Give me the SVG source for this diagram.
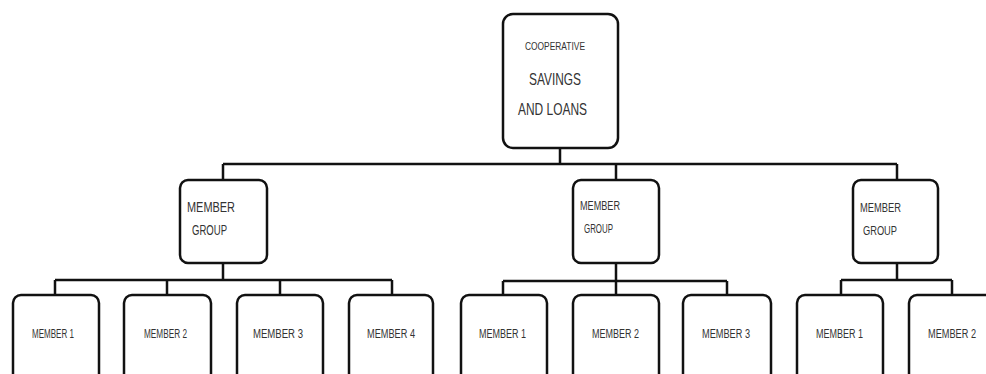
<svg xmlns="http://www.w3.org/2000/svg" width="986" height="374" viewBox="0 0 986 374">
<style>
.box{fill:#fff;stroke:#111;stroke-width:2.5}
.ln{fill:none;stroke:#111;stroke-width:2.5}
text{font-family:"Liberation Sans",Arial,sans-serif;fill:#333}
.m{font-size:12px}
</style>
<rect width="986" height="374" fill="#fff"/>
<g id="connectors">
<path class="ln" d="M560 148V164M223 164H897M223 164V180M616 164V180M897 164V180"/>
<path class="ln" d="M223 263V280M55 280H392M55 280V295M167 280V295M280 280V295M392 280V295"/>
<path class="ln" d="M616 263V281M503 281H727M503 281V295M616 281V295M727 281V295"/>
<path class="ln" d="M897 263V280M841 280H952M841 280V295M952 280V295"/>
</g>
<g id="root">
<rect class="box" x="503" y="14" width="115" height="134" rx="10"/>
<text x="525" y="50" font-size="11.5" textLength="60" lengthAdjust="spacingAndGlyphs">COOPERATIVE</text>
<text x="529" y="85" font-size="16.5" textLength="52" lengthAdjust="spacingAndGlyphs">SAVINGS</text>
<text x="518" y="115" font-size="16.5" textLength="69" lengthAdjust="spacingAndGlyphs">AND LOANS</text>
</g>
<g id="group1">
<rect class="box" x="180" y="180" width="87" height="83" rx="8"/>
<text x="187" y="212" font-size="15" textLength="48" lengthAdjust="spacingAndGlyphs">MEMBER</text>
<text x="192" y="235" font-size="15" textLength="35" lengthAdjust="spacingAndGlyphs">GROUP</text>
</g>
<g id="group2">
<rect class="box" x="573" y="180" width="86" height="83" rx="8"/>
<text x="580" y="210" font-size="12" textLength="40" lengthAdjust="spacingAndGlyphs">MEMBER</text>
<text x="584" y="233" font-size="12" textLength="29" lengthAdjust="spacingAndGlyphs">GROUP</text>
</g>
<g id="group3">
<rect class="box" x="853" y="180" width="85" height="83" rx="8"/>
<text x="860" y="212" font-size="12.5" textLength="41" lengthAdjust="spacingAndGlyphs">MEMBER</text>
<text x="863" y="235" font-size="13.5" textLength="34" lengthAdjust="spacingAndGlyphs">GROUP</text>
</g>
<g id="g1-member1"><rect class="box" x="13" y="295" width="86" height="100" rx="8"/><text class="m" x="32" y="338" font-size="11" textLength="42" lengthAdjust="spacingAndGlyphs">MEMBER 1</text></g>
<g id="g1-member2"><rect class="box" x="124" y="295" width="87" height="100" rx="8"/><text class="m" x="144" y="338" font-size="11" textLength="43" lengthAdjust="spacingAndGlyphs">MEMBER 2</text></g>
<g id="g1-member3"><rect class="box" x="237" y="295" width="86" height="100" rx="8"/><text class="m" x="253" y="338" textLength="50" lengthAdjust="spacingAndGlyphs">MEMBER 3</text></g>
<g id="g1-member4"><rect class="box" x="349" y="295" width="84" height="100" rx="8"/><text class="m" x="367" y="338" textLength="48" lengthAdjust="spacingAndGlyphs">MEMBER 4</text></g>
<g id="g2-member1"><rect class="box" x="461" y="295" width="86" height="100" rx="8"/><text class="m" x="479" y="338" textLength="47" lengthAdjust="spacingAndGlyphs">MEMBER 1</text></g>
<g id="g2-member2"><rect class="box" x="573" y="295" width="86" height="100" rx="8"/><text class="m" x="592" y="338" textLength="47" lengthAdjust="spacingAndGlyphs">MEMBER 2</text></g>
<g id="g2-member3"><rect class="box" x="683" y="295" width="88" height="100" rx="8"/><text class="m" x="702" y="338" textLength="48" lengthAdjust="spacingAndGlyphs">MEMBER 3</text></g>
<g id="g3-member1"><rect class="box" x="797" y="295" width="86" height="100" rx="8"/><text class="m" x="816" y="338" textLength="47" lengthAdjust="spacingAndGlyphs">MEMBER 1</text></g>
<g id="g3-member2"><rect class="box" x="909" y="295" width="88" height="100" rx="8"/><text class="m" x="928" y="338" textLength="48" lengthAdjust="spacingAndGlyphs">MEMBER 2</text></g>
</svg>
